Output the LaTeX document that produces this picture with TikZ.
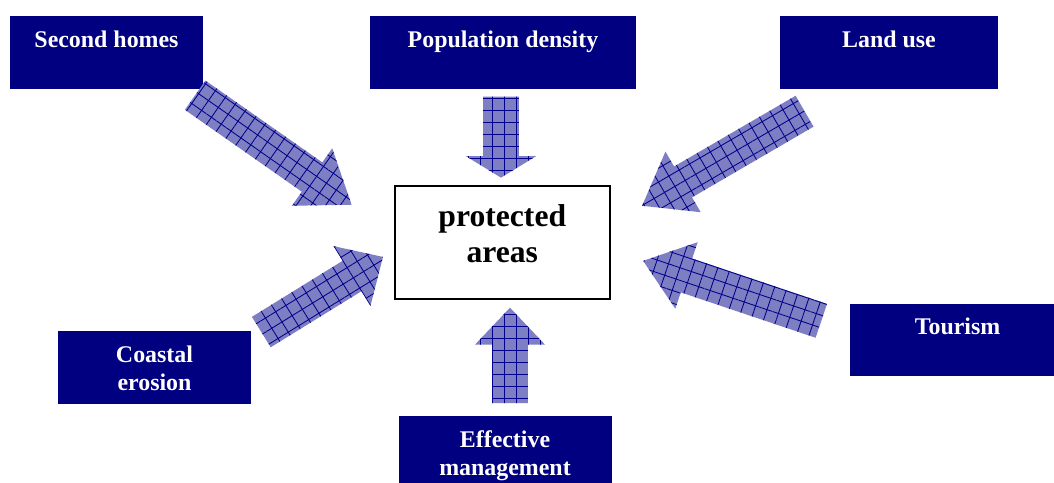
\documentclass[tikz,border=0pt]{standalone}
\usepackage{fontspec}
\setmainfont{Liberation Serif}
\usepackage{tikz}
\usetikzlibrary{positioning,shapes.arrows,patterns.meta}

\definecolor{boxnavy}{RGB}{0,0,128}
\definecolor{arrowfill}{RGB}{126,126,194}
\definecolor{gridnavy}{RGB}{0,0,140}

\tikzset{
  factor/.style={fill=boxnavy, text=white, anchor=north, inner sep=0pt,
    font=\fontsize{17}{19.9}\selectfont\bfseries,
    text height=7.75mm, text depth=10.375mm},
  pressarrow/.style={single arrow, fill=arrowfill, rotate=#1, anchor=tip,
    inner xsep=0pt, inner ysep=4.4mm, single arrow head extend=4.3mm,
    postaction={pattern={Lines[angle=#1,distance=3mm,line width=0.6pt]}, pattern color=gridnavy},
    postaction={pattern={Lines[angle=#1+90,distance=3mm,line width=0.6pt]}, pattern color=gridnavy}}
}

\begin{document}
\begin{tikzpicture}[x=0.25mm,y=-0.25mm]
\useasboundingbox (0,0) rectangle (1054,482);
\clip (0,0) rectangle (1054,482);
%----centre----%
\node[draw=black, line width=1.4pt, fill=white, anchor=north, inner sep=0pt,
  minimum width=53.7mm, text height=10.25mm, text depth=18mm,
  font=\fontsize{22.5}{25.6}\selectfont\bfseries] (pa) at (502.3,185)
  {\begin{tabular}[t]{@{}c@{}}protected\\areas\end{tabular}};
%----factors----%
\node[factor, minimum width=48.25mm] (sh) at (106.5,16) {Second homes};
\node[factor, minimum width=66.5mm] (pd) at (503,16) {Population density};
\node[factor, minimum width=54.5mm] (lu) at (889,16) {Land use};
\node[factor, minimum width=48.25mm] (ce) at (154.5,331) {\begin{tabular}[t]{@{}c@{}}Coastal\\erosion\end{tabular}};
\node[factor, minimum width=53.75mm] (to) at (957.5,303.5) {Tourism};
\node[factor, minimum width=53.25mm] (em) at (505,416) {\begin{tabular}[t]{@{}c@{}}Effective\\management\end{tabular}};
%----pressures----%
\node[pressarrow=-35, single arrow tip angle=72, minimum height=47.75mm] (ash) at (352,205) {};
\node[pressarrow=-90, single arrow tip angle=117, minimum height=20.25mm] (apd) at (501,178) {};
\node[pressarrow=210.2, single arrow tip angle=73, minimum height=47mm] (alu) at (641.7,206) {};
\node[pressarrow=31.7, single arrow tip angle=88, minimum height=35.75mm] (ace) at (383.3,256.7) {};
\node[pressarrow=161.4, single arrow tip angle=75, minimum height=47mm] (ato) at (642.7,260.7) {};
\node[pressarrow=90, single arrow tip angle=87, minimum height=23.85mm] (aem) at (510,307.3) {};
\end{tikzpicture}
\end{document}
